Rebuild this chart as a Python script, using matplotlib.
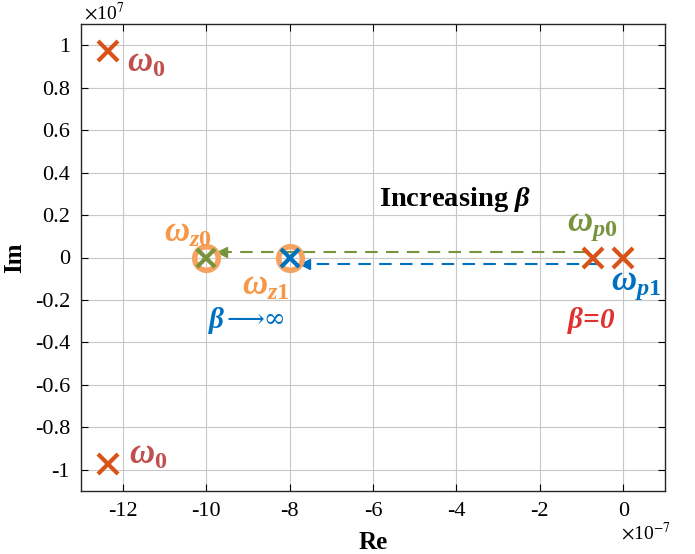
import matplotlib
matplotlib.use("Agg")
import matplotlib.pyplot as plt

plt.rcParams['font.family'] = ['Liberation Serif', 'DejaVu Serif']
plt.rcParams['axes.unicode_minus'] = False
plt.rcParams['mathtext.fontset'] = 'custom'
plt.rcParams['mathtext.it'] = 'Liberation Serif:bold:italic'
plt.rcParams['mathtext.rm'] = 'Liberation Serif:bold'
plt.rcParams['mathtext.bf'] = 'Liberation Serif:bold'

# values in units of 1e-7 (Re) and 1e7 (Im)
w0_re = [-12.35, -12.35]
w0_im = [0.975, -0.975]
zero_re = [-10, -8]
zero_im = [0, 0]
pole_re = [-0.72, 0]
pole_im = [0, 0]
# arrow paths
green_arrow_re = [-0.9, -9.62]
green_arrow_im = [0.025, 0.025]
blue_arrow_re = [-0.55, -7.62]
blue_arrow_im = [-0.03, -0.03]

xticks = list(range(-12, 1, 2))
yticks = [-1, -0.8, -0.6, -0.4, -0.2, 0, 0.2, 0.4, 0.6, 0.8, 1]

fig = plt.figure(figsize=(6.95, 5.54), dpi=100)
ax = fig.add_axes([81/695, 1-491/554, (665-81)/695, (491-24)/554])

ax.grid(True, color='#c8c8c8', lw=0.8)
ax.set_axisbelow(True)

ax.plot(green_arrow_re, green_arrow_im, '--', color='#77933c', lw=1.5, dashes=(6, 4))
ax.plot(green_arrow_re[1], green_arrow_im[1], '<', color='#77933c', ms=7)
ax.plot(blue_arrow_re, blue_arrow_im, '--', color='#0070c0', lw=1.5, dashes=(6, 4))
ax.plot(blue_arrow_re[1], blue_arrow_im[1], '<', color='#0070c0', ms=7)

ax.plot(zero_re, zero_im, 'o', ms=17, mfc='none', mec='#f4a460', mew=4)
ax.plot(zero_re[0], zero_im[0], 'x', ms=13, color='#77933c', mew=3)
ax.plot(zero_re[1], zero_im[1], 'x', ms=13, color='#0072bd', mew=3)
ax.plot(pole_re, pole_im, 'x', ms=14, color='#d95319', mew=3, ls='none')
ax.plot(w0_re, w0_im, 'x', ms=14, color='#d95319', mew=3, ls='none')

fs = 25
ax.text(-11.9, 0.915, r'$\omega_0$', color='#c0504d', fontsize=fs, va='center')
ax.text(-11.85, -0.93, r'$\omega_0$', color='#c0504d', fontsize=fs, va='center')
ax.text(-11.0, 0.115, r'$\omega_{z0}$', color='#f79646', fontsize=fs, va='center')
ax.text(-9.15, -0.135, r'$\omega_{z1}$', color='#f79646', fontsize=fs, va='center')
ax.text(-1.36, 0.145, r'$\omega_{p0}$', color='#77933c', fontsize=fs, va='center')
ax.text(-0.3, -0.13, r'$\omega_{p1}$', color='#0070c0', fontsize=fs, va='center')
ax.text(-9.95, -0.295, r'$\beta$', color='#0070c0', fontsize=21, va='center')
ax.text(-9.5, -0.29, '\u27f6\u221e', color='#0070c0', fontsize=19, va='center',
        family=['DejaVu Serif', 'DejaVu Sans'])
ax.text(-1.34, -0.295, r'$\beta$=0', color='#e03030', fontsize=21, va='center',
        fontweight='bold', style='italic')
ax.text(-5.85, 0.275, r'Increasing $\beta$', color='black', fontsize=20.5,
        va='center', fontweight='bold')

ax.set_xlim(-13, 1)
ax.set_ylim(-1.1, 1.1)
ax.set_xticks(xticks)
ax.set_yticks(yticks)
ax.set_xticklabels([str(t) for t in xticks])
ax.set_yticklabels(['%g' % t for t in yticks])
ax.tick_params(direction='in', top=True, right=True, labelsize=16, length=5, pad=8)
for s in ax.spines.values():
    s.set_linewidth(1.0)
    s.set_color('#262626')

ax.set_xlabel('Re', fontsize=18, fontweight='bold')
ax.xaxis.set_label_coords(0.5, -0.086)
ax.set_ylabel('Im', fontsize=18, fontweight='bold')
ax.yaxis.set_label_coords(-0.094, 0.5)

fig.text(84/695, 1-13/554, r'$\times$10$^{7}$', fontsize=14, va='center', ha='left',
         math_fontfamily='stix')
fig.text(621/695, 1-533/554, r'$\times$10$^{-7}$', fontsize=14, va='center', ha='left',
         math_fontfamily='stix')

fig.savefig('out.png', dpi=100)
